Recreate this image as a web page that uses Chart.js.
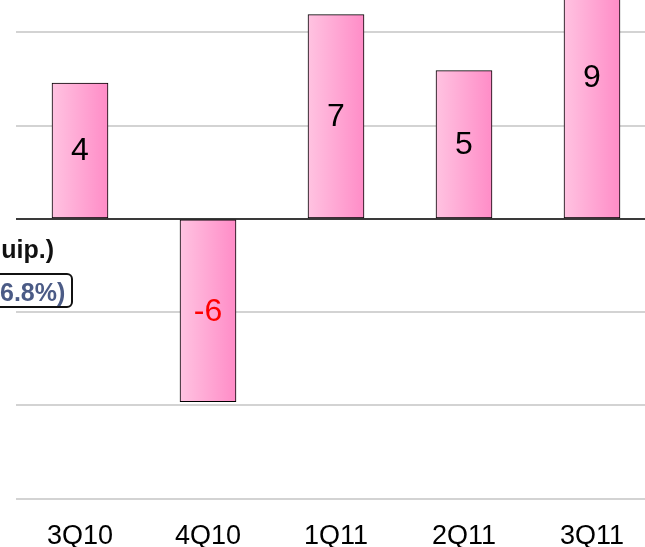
<!DOCTYPE html>
<html>
<head>
<meta charset="utf-8">
<script src="https://cdn.jsdelivr.net/npm/chart.js@4/dist/chart.umd.min.js"></script>
<style>
  html, body { margin: 0; padding: 0; background: #fff; }
  body { width: 645px; height: 547px; overflow: hidden; position: relative; font-family: 'Liberation Sans', Arial, sans-serif; }
  #wrap { position: absolute; left: 0; top: -99px; width: 660px; height: 674px; }
  .note { position: absolute; font-weight: bold; font-size: 25px; line-height: 25px; white-space: nowrap; text-align: right; }
  #n1 { left: 0; top: 237px; width: 54px; color: #111; }
  #box { position: absolute; left: -20px; top: 273px; width: 89px; height: 31px; border: 2px solid #111; border-radius: 6px; background: #fff; }
  #n2 { left: 0; top: 280px; width: 64px; color: #4b5b86; }
</style>
</head>
<body>
<div id="wrap"><canvas id="chart" width="660" height="674"></canvas></div>
<div id="box"></div>
<div class="note" id="n1">uip.)</div>
<div class="note" id="n2">6.8%)</div>
<script>
const quarters = ['3Q10', '4Q10', '1Q11', '2Q11', '3Q11'];
const growth = [4.37, -5.88, 6.57, 4.77, 9.06];
const growthLabels = ['4', '-6', '7', '5', '9'];
const yTicks = [-9, -6, -3, 0, 3, 6, 9];

const barWidth = 56;

// bar values written in the middle of each bar
const barText = {
  id: 'barText',
  afterDatasetsDraw(chart) {
    const ctx = chart.ctx;
    const meta = chart.getDatasetMeta(0);
    ctx.save();
    ctx.font = '32px "Liberation Sans", Arial, sans-serif';
    ctx.textAlign = 'center';
    ctx.textBaseline = 'middle';
    meta.data.forEach((bar, i) => {
      ctx.fillStyle = growth[i] < 0 ? '#ff0000' : '#000000';
      ctx.fillText(growthLabels[i], bar.x, (bar.y + bar.base) / 2 + 1);
    });
    ctx.restore();
  }
};

new Chart(document.getElementById('chart'), {
  type: 'bar',
  data: {
    labels: quarters,
    datasets: [{
      data: growth,
      backgroundColor: (c) => {
        const chart = c.chart;
        if (!chart.chartArea) return '#ffaad5';
        const cx = chart.scales.x.getPixelForValue(c.dataIndex);
        const g = chart.ctx.createLinearGradient(cx - barWidth / 2, 0, cx + barWidth / 2, 0);
        g.addColorStop(0, '#ffc3e1');
        g.addColorStop(1, '#ff8cc7');
        return g;
      },
      borderColor: '#000',
      borderWidth: 1,
      borderSkipped: false,
      barThickness: barWidth
    }]
  },
  options: {
    responsive: false,
    animation: false,
    devicePixelRatio: 1,
    layout: { padding: { left: 16, right: 4, top: 7, bottom: 0 } },
    plugins: { legend: { display: false }, tooltip: { enabled: false } },
    scales: {
      x: {
        grid: { display: false, drawTicks: false },
        border: { display: false },
        ticks: {
          color: '#000',
          padding: 22,
          font: { family: '"Liberation Sans", Arial, sans-serif', size: 27 }
        }
      },
      y: {
        min: -9,
        max: 10,
        afterBuildTicks: (scale) => { scale.ticks = yTicks.map(v => ({ value: v })); },
        grid: {
          drawTicks: false,
          color: (c) => c.tick && c.tick.value === 0 ? '#3a3a3a' : '#d3d3d3',
          lineWidth: 2
        },
        border: { display: false },
        ticks: { display: false }
      }
    }
  },
  plugins: [barText]
});
</script>
</body>
</html>
